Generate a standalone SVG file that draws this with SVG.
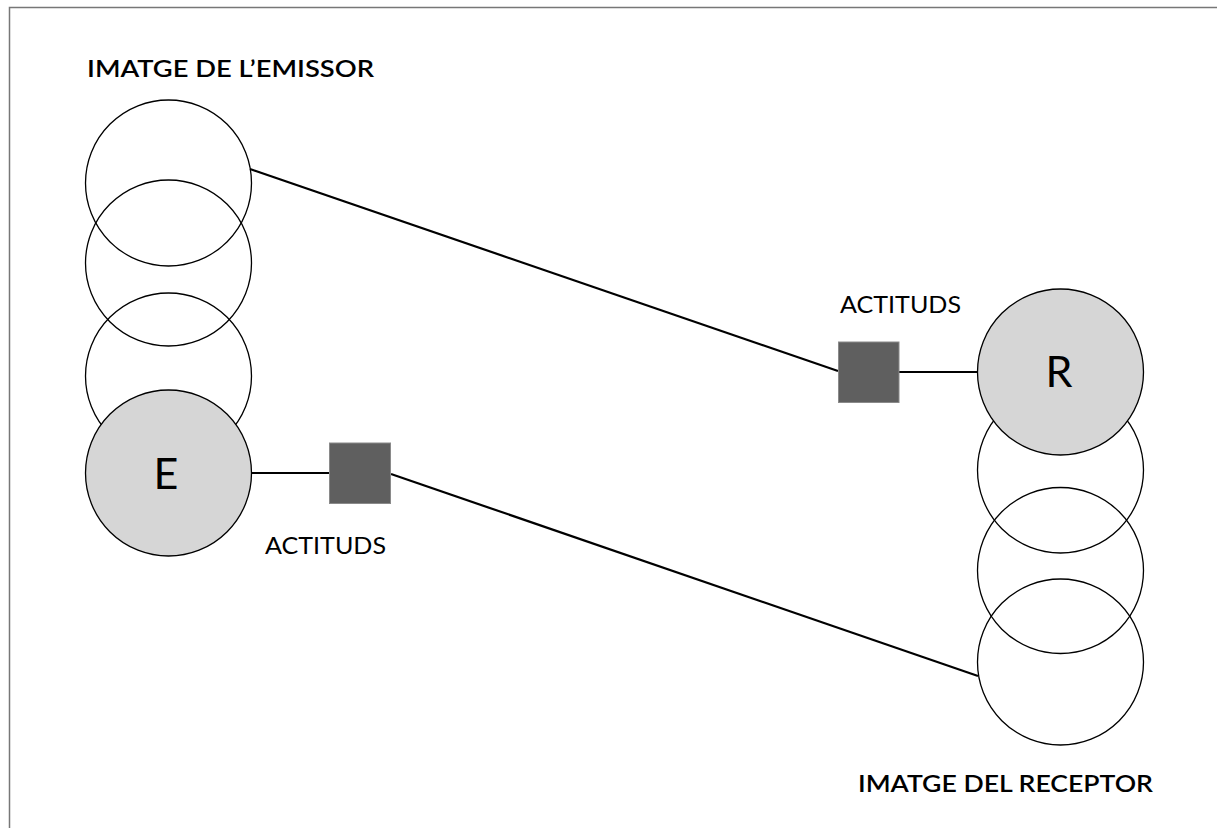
<svg xmlns="http://www.w3.org/2000/svg" width="1217" height="828" viewBox="0 0 1217 828">
<style>
.ring{fill:none;stroke:#000;stroke-width:1.3}
.main{fill:#d6d6d6;stroke:#000;stroke-width:1.3}
.sq{fill:#5f5f5f;stroke:#8a8a8a;stroke-width:1}
.conn{stroke:#000;stroke-width:2.2;fill:none}
.title{font-family:Lato,"Liberation Sans",sans-serif;font-size:23px;font-weight:600;fill:#000}
.lbl{font-family:Lato,"Liberation Sans",sans-serif;font-size:23.5px;fill:#000}
.big{font-family:Lato,"Liberation Sans",sans-serif;font-size:43px;fill:#000;text-anchor:middle}
</style>
<rect width="1217" height="828" fill="#fff"/>
<path d="M9.5 828 V7.5 H1217" fill="none" stroke="#777" stroke-width="1.5"/>
<g id="connectors">
<line class="conn" x1="250" y1="169" x2="838" y2="371"/>
<line class="conn" x1="899" y1="372" x2="978" y2="372"/>
<line class="conn" x1="251" y1="473" x2="329" y2="473"/>
<line class="conn" x1="391" y1="474" x2="978" y2="676"/>
</g>
<g id="emissor-image">
<circle class="ring" cx="168.5" cy="183" r="83"/>
<circle class="ring" cx="168.5" cy="263" r="83"/>
<circle class="ring" cx="168.5" cy="376" r="83"/>
</g>
<g id="node-E">
<circle class="main" cx="168.5" cy="473" r="83"/>
<text class="big" x="166" y="489">E</text>
</g>
<g id="receptor-image">
<circle class="ring" cx="1060.5" cy="470" r="83"/>
<circle class="ring" cx="1060.5" cy="570.5" r="83"/>
<circle class="ring" cx="1060.5" cy="662" r="83"/>
</g>
<g id="node-R">
<circle class="main" cx="1060.5" cy="372" r="83"/>
<text class="big" x="1059" y="387">R</text>
</g>
<g id="actituds-E">
<rect class="sq" x="329.5" y="443" width="61" height="60.5"/>
<text class="lbl" x="265" y="554" textLength="121" lengthAdjust="spacingAndGlyphs">ACTITUDS</text>
</g>
<g id="actituds-R">
<rect class="sq" x="838.5" y="342" width="60.5" height="60.5"/>
<text class="lbl" x="840" y="313" textLength="121" lengthAdjust="spacingAndGlyphs">ACTITUDS</text>
</g>
<text class="title" x="87" y="77" textLength="287" lengthAdjust="spacingAndGlyphs">IMATGE DE L’EMISSOR</text>
<text class="title" x="858" y="792" textLength="295" lengthAdjust="spacingAndGlyphs">IMATGE DEL RECEPTOR</text>
</svg>
